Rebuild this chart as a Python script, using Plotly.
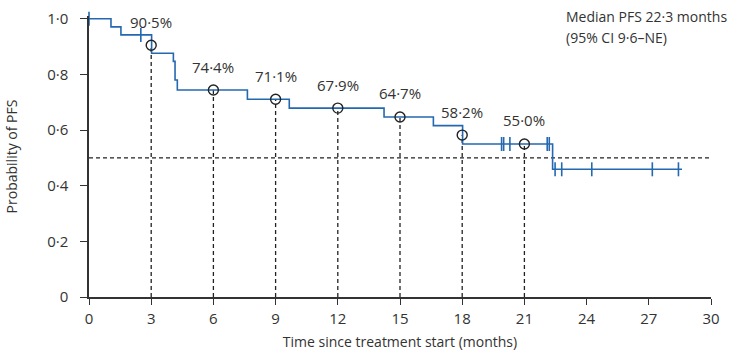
import plotly.graph_objects as go

# Kaplan-Meier step curve (time in months, probability of PFS)
step_times = [0, 1.06, 1.54, 3.02, 4.07, 4.15, 4.26, 7.64, 9.66, 14.23, 16.61, 18.02, 22.36, 28.6]
step_surv = [1.0, 0.971, 0.942, 0.876, 0.847, 0.78, 0.744, 0.711, 0.679, 0.647, 0.616, 0.55, 0.459, 0.459]

# Censoring times
censor_times = [0, 2.5, 19.9, 20.0, 20.3, 22.1, 22.2, 22.48, 22.8, 24.25, 27.17, 28.43]

# Landmark estimates
landmark_times = [3, 6, 9, 12, 15, 18, 21]
landmark_surv = [0.905, 0.744, 0.711, 0.679, 0.647, 0.582, 0.550]
landmark_labels = ["90·5%", "74·4%", "71·1%", "67·9%", "64·7%", "58·2%", "55·0%"]

median_level = 0.5

x_ticks = [0, 3, 6, 9, 12, 15, 18, 21, 24, 27, 30]
y_ticks = [0, 0.2, 0.4, 0.6, 0.8, 1.0]
y_tick_text = ["0", "0·2", "0·4", "0·6", "0·8", "1·0"]

BLUE = "#2468b0"
TXT = "#333333"
FONT = "Open Sans"


def surv_at(t):
    v = step_surv[0]
    for tt, s in zip(step_times, step_surv):
        if tt <= t:
            v = s
    return v


fig = go.Figure()

# vertical dashed landmark lines
vx, vy = [], []
for t, s in zip(landmark_times, landmark_surv):
    vx += [t, t, None]
    vy += [0, s, None]
fig.add_trace(go.Scatter(x=vx, y=vy, mode="lines",
                         line=dict(color="#222222", width=1.3, dash="4px,3px"),
                         hoverinfo="skip", showlegend=False))
# median horizontal dashed line
fig.add_trace(go.Scatter(x=[0, 30], y=[median_level, median_level], mode="lines",
                         line=dict(color="#222222", width=1.3, dash="4px,3px"),
                         hoverinfo="skip", showlegend=False))

# KM curve
fig.add_trace(go.Scatter(x=step_times, y=step_surv, mode="lines", line_shape="hv",
                         line=dict(color=BLUE, width=1.6), showlegend=False))

# censor marks
fig.add_trace(go.Scatter(x=censor_times, y=[surv_at(t) for t in censor_times], mode="markers",
                         marker=dict(symbol="line-ns", size=10,
                                     line=dict(color=BLUE, width=1.6)),
                         cliponaxis=False, showlegend=False))

# landmark circles
fig.add_trace(go.Scatter(x=landmark_times, y=landmark_surv, mode="markers",
                         marker=dict(symbol="circle-open", size=10, color="#222222",
                                     line=dict(color="#222222", width=1.4)),
                         cliponaxis=False, showlegend=False))

for t, s, lab in zip(landmark_times, landmark_surv, landmark_labels):
    fig.add_annotation(x=t, y=s, text=lab, showarrow=False, yshift=23.5,
                       font=dict(family=FONT, size=15, color=TXT))

fig.add_annotation(xref="paper", yref="paper", x=0.763, y=1.0, xanchor="left", yanchor="middle",
                   align="left", showarrow=False, text="Median PFS 22·3 months",
                   font=dict(family=FONT, size=14, color=TXT))
fig.add_annotation(xref="paper", yref="paper", x=0.763, y=0.922, xanchor="left", yanchor="middle",
                   align="left", showarrow=False, text="(95% CI 9·6–NE)",
                   font=dict(family=FONT, size=14, color=TXT))

fig.update_layout(
    width=732, height=354,
    margin=dict(l=89, r=21, t=16, b=57),
    plot_bgcolor="white", paper_bgcolor="white",
    font=dict(family=FONT, size=13, color=TXT),
)
fig.update_xaxes(range=[0, 30], tickvals=x_ticks, ticks="outside", ticklen=6,
                 tickwidth=1.3, tickcolor="#333333", ticklabelstandoff=1, automargin=False,
                 showline=True, linecolor="#333333", linewidth=1.5, showgrid=False,
                 zeroline=False, tickfont=dict(size=15, color=TXT),
                 title=dict(text="Time since treatment start (months)",
                            font=dict(size=14, color=TXT), standoff=10))
fig.update_yaxes(range=[0, 1.01], tickvals=y_ticks, ticktext=y_tick_text, ticks="outside",
                 ticklen=7, tickwidth=1.3, tickcolor="#333333", ticklabelstandoff=9,
                 automargin=False,
                 showline=True, linecolor="#333333", linewidth=1.5, showgrid=False,
                 zeroline=False, tickfont=dict(size=15, color=TXT),
                 title=dict(text="Probability of PFS", font=dict(size=14, color=TXT), standoff=26))

fig.write_html("out.html")
